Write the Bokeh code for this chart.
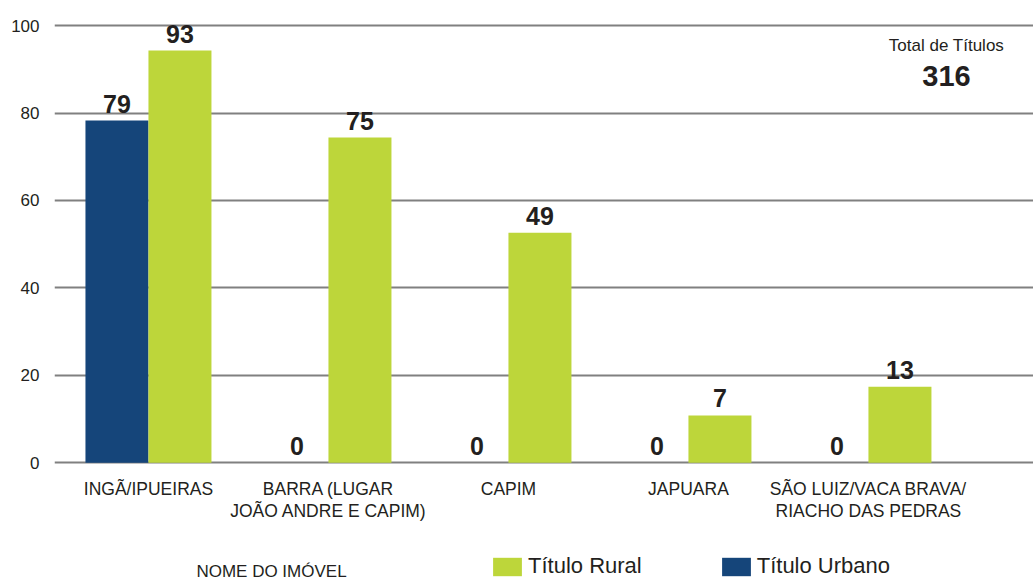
from bokeh.plotting import figure
from bokeh.models import (ColumnDataSource, Range1d, FixedTicker, Legend, LegendItem, Label)
from bokeh.transform import dodge
from bokeh.core.properties import value
from bokeh.embed import file_html
from bokeh.resources import INLINE

# ---- data ----
categories = ["INGÃ/IPUEIRAS", "BARRA (LUGAR\nJOÃO ANDRE E CAPIM)", "CAPIM", "JAPUARA",
              "SÃO LUIZ/VACA BRAVA/\nRIACHO DAS PEDRAS"]
urbano_bar = [78.3, 0, 0, 0, 0]          # bar heights as drawn
rural_bar = [94.3, 74.4, 52.6, 10.8, 17.4]
urbano_labels = [79, 0, 0, 0, 0]          # printed values
rural_labels = [93, 75, 49, 7, 13]
y_ticks = [0, 20, 40, 60, 80, 100]
x_title = "NOME DO IMÓVEL"
series_names = ["Título Rural", "Título Urbano"]
total_title = "Total de Títulos"

BLUE = "#15457a"
GREEN = "#bdd63a"
TEXT = "#231f20"
GRID = "#808080"
FONT = "Liberation Sans"

idx = list(range(len(categories)))
src = ColumnDataSource(dict(
    x=idx, cat=categories,
    urb=urbano_bar, rur=rural_bar,
    urb_lab=[str(v) for v in urbano_labels],
    rur_lab=[str(v) for v in rural_labels],
))

p = figure(width=1033, height=581, output_backend="svg", toolbar_location=None,
           x_range=Range1d(-0.522, 4.917), y_range=Range1d(-27.19, 100.5),
           min_border_left=54, min_border_right=0, min_border_top=23, min_border_bottom=0)
p.outline_line_color = None
p.xaxis.visible = False
p.xgrid.visible = False
p.ygrid.ticker = FixedTicker(ticks=y_ticks)
p.ygrid.grid_line_color = GRID
p.ygrid.grid_line_width = 2
p.yaxis.ticker = FixedTicker(ticks=y_ticks)
p.yaxis.axis_line_color = None
p.yaxis.major_tick_line_color = None
p.yaxis.minor_tick_line_color = None
p.yaxis.major_tick_out = 0
p.yaxis.major_tick_in = 0
p.yaxis.major_label_standoff = 15
p.yaxis.major_label_text_font = FONT
p.yaxis.major_label_text_font_size = "17px"
p.yaxis.major_label_text_color = TEXT

bw = 0.35
r_urb = p.vbar(x=dodge("x", -bw / 2), top="urb", width=bw, source=src,
               fill_color=BLUE, line_color=None)
r_rur = p.vbar(x=dodge("x", bw / 2), top="rur", width=bw, source=src,
               fill_color=GREEN, line_color=None)

common = dict(text_font=value(FONT), text_color=TEXT, text_align="center")

p.text(x=dodge("x", -bw / 2), y="urb", text="urb_lab", source=src, text_font_size="25px",
       text_font_style="bold", text_baseline="middle", y_offset=-17, **common)
p.text(x=dodge("x", bw / 2), y="rur", text="rur_lab", source=src, text_font_size="25px",
       text_font_style="bold", text_baseline="middle", y_offset=-17, **common)

# category labels under the baseline
p.text(x="x", y=0, text="cat", source=src, text_font_size="17.5px", text_baseline="top",
       y_offset=16, text_line_height=1.12, **common)

# total box
total = sum(urbano_labels) + sum(rural_labels)
p.add_layout(Label(x=892, y=536, x_units="screen", y_units="screen", text=total_title,
                   text_font=FONT, text_font_size="17px", text_color=TEXT,
                   text_align="center", text_baseline="middle"))
p.add_layout(Label(x=892, y=506, x_units="screen", y_units="screen", text=str(total),
                   text_font=FONT, text_font_size="29px", text_font_style="bold",
                   text_color=TEXT, text_align="center", text_baseline="middle"))

# x title
p.add_layout(Label(x=217, y=10, x_units="screen", y_units="screen", text=x_title,
                   text_font=FONT, text_font_size="17px", text_color=TEXT,
                   text_align="center", text_baseline="middle"))

legend = Legend(items=[LegendItem(label=series_names[0], renderers=[r_rur]),
                       LegendItem(label=series_names[1], renderers=[r_urb])],
                location=(435, 2), orientation="horizontal",
                glyph_width=36, glyph_height=23, label_height=23,
                label_standoff=3, spacing=76, padding=0, margin=0,
                border_line_color=None, background_fill_alpha=0,
                label_text_font=FONT, label_text_font_size="22px",
                label_text_color=TEXT)
p.add_layout(legend)

open("out.html", "w").write(file_html(p, INLINE))
